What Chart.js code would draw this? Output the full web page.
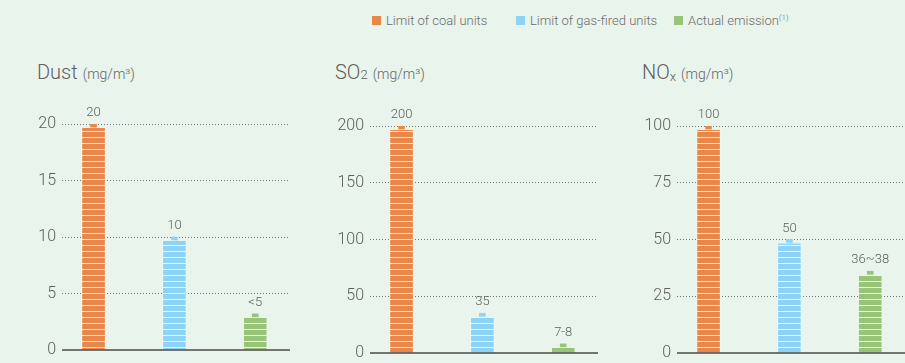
<!DOCTYPE html>
<html>
<head>
<meta charset="utf-8">
<script src="https://cdn.jsdelivr.net/npm/chart.js@4"></script>
<style>
html, body { margin: 0; padding: 0; background: #e9f4ec; }
#page { position: relative; width: 905px; height: 363px; overflow: hidden;
        font-family: Roboto, "Liberation Sans", sans-serif; color: #666; }
.legend-item { position: absolute; top: 13px; font-size: 13px; line-height: 15px;
               white-space: nowrap; color: #6b6b6b; font-weight: 300; }
.legend-item i { display: inline-block; width: 9px; height: 9px; margin-right: 5px; }
.legend-item sup { font-size: 8px; vertical-align: 5px; line-height: 0; }
.title { position: absolute; top: 62px; font-size: 20px; line-height: 20px;
         color: #5e5e5e; white-space: nowrap; font-weight: 300; }
.title .unit { font-size: 14px; margin-left: 5px; color: #666; }
.title .sm { font-size: 13px; }
.title .sub { font-size: 13px; position: relative; top: 2px; }
canvas { position: absolute; top: 96px; }
</style>
</head>
<body>
<div id="page">
  <div class="legend-item" style="left:372px"><i style="background:#e98649"></i>Limit of coal units</div>
  <div class="legend-item" style="left:516px"><i style="background:#8dd3f5"></i>Limit of gas-fired units</div>
  <div class="legend-item" style="left:674px"><i style="background:#97c477"></i>Actual emission<sup>(1)</sup></div>

  <div class="title" style="left:37px">Dust<span class="unit">(mg/m³)</span></div>
  <div class="title" style="left:335px">SO<span class="sm">2</span><span class="unit">(mg/m³)</span></div>
  <div class="title" style="left:642px">NO<span class="sub">x</span><span class="unit">(mg/m³)</span></div>

  <canvas id="dust" width="300" height="264" style="left:0px"></canvas>
  <canvas id="so2" width="305" height="264" style="left:300px"></canvas>
  <canvas id="nox" width="300" height="264" style="left:605px"></canvas>
</div>
<script>
// Series order: coal limit, gas-fired limit, actual emission
const categories = ['Limit of coal units', 'Limit of gas-fired units', 'Actual emission'];
const seriesColors = ['#e98649', '#8dd3f5', '#97c477'];

const dustValues = [20, 10, 3.2];
const dustLabels = ['20', '10', '<5'];
const dustMax = 20, dustStep = 5;

const so2Values = [200, 35, 8];
const so2Labels = ['200', '35', '7-8'];
const so2Max = 200, so2Step = 50;

const noxValues = [100, 50, 36];
const noxLabels = ['100', '50', '36~38'];
const noxMax = 100, noxStep = 25;

Chart.defaults.font.family = 'Roboto, "Liberation Sans", sans-serif';

// Horizontal white stripes over the bar colour
function stripes(color) {
  const c = document.createElement('canvas');
  c.width = 4; c.height = 6;
  const g = c.getContext('2d');
  g.fillStyle = color; g.fillRect(0, 0, 4, 6);
  g.fillStyle = 'rgba(255,255,255,0.8)'; g.fillRect(0, 5, 4, 1);
  return g.createPattern(c, 'repeat');
}
const patterns = seriesColors.map(stripes);

// Solid zero line across the plot, drawn over the bar feet
const baseline = {
  id: 'baseline',
  afterDatasetsDraw(chart) {
    const { ctx, chartArea } = chart;
    const y = chart.scales.y.getPixelForValue(0);
    ctx.save();
    ctx.strokeStyle = '#4a4a4a';
    ctx.lineWidth = 1.5;
    ctx.beginPath();
    ctx.moveTo(chartArea.left, y);
    ctx.lineTo(chartArea.right, y);
    ctx.stroke();
    ctx.restore();
  }
};

function makeChart(id, values, labels, yMax, step, axisWidth, pad) {
  const plotHeight = 227;                 // pixel height of the value range
  const unitPerPx = yMax / plotHeight;
  const valueLabels = {
    id: 'valueLabels',
    afterDatasetsDraw(chart) {
      const ctx = chart.ctx;
      const meta = chart.getDatasetMeta(1);
      ctx.save();
      ctx.font = '300 13px Roboto, "Liberation Sans", sans-serif';
      ctx.fillStyle = '#5e5e5e';
      ctx.textAlign = 'center';
      ctx.textBaseline = 'alphabetic';
      meta.data.forEach((el, i) => ctx.fillText(labels[i], el.x, el.y - 8));
      ctx.restore();
    }
  };
  return new Chart(document.getElementById(id), {
    type: 'bar',
    data: {
      datasets: [
        { // striped column, stopping just under the value
          data: values.map((v, i) => ({ x: i, y: [0, v - 4 * unitPerPx] })),
          backgroundColor: patterns,
          borderColor: 'rgba(255,255,255,0.35)',
          borderWidth: { left: 1, right: 1, top: 0, bottom: 0 },
          borderSkipped: false,
          barThickness: 24,
          grouped: false
        },
        { // small cap marking the value
          data: values.map((v, i) => ({ x: i, y: [v - 3 * unitPerPx, v] })),
          backgroundColor: seriesColors,
          barThickness: 6,
          grouped: false
        }
      ]
    },
    options: {
      responsive: false,
      animation: false,
      layout: { padding: pad },
      plugins: { legend: { display: false }, tooltip: { enabled: false } },
      scales: {
        x: {
          type: 'linear', min: -0.39, max: 2.43, offset: false,
          display: false
        },
        y: {
          min: 0, max: yMax,
          ticks: { stepSize: step, padding: 6, color: '#5e5e5e', font: { size: 16, weight: '300' } },
          grid: {
            drawTicks: false,
            lineWidth: 1,
            color: ctx => (ctx.tick && ctx.tick.value === 0) ? 'rgba(0,0,0,0)' : '#777'
          },
          border: { display: false, dash: [1, 2] },
          afterFit(scale) {
            scale.width = axisWidth;
            scale.paddingTop = 0;
            scale.paddingBottom = 0;
          }
        }
      }
    },
    plugins: [baseline, valueLabels]
  });
}

makeChart('dust', dustValues, dustLabels, dustMax, dustStep, 62, { top: 28, bottom: 10, left: 0, right: 10 });
makeChart('so2', so2Values, so2Labels, so2Max, so2Step, 70, { top: 30, bottom: 7, left: 0, right: 7 });
makeChart('nox', noxValues, noxLabels, noxMax, noxStep, 72, { top: 30, bottom: 7, left: 0, right: 0 });
</script>
</body>
</html>
